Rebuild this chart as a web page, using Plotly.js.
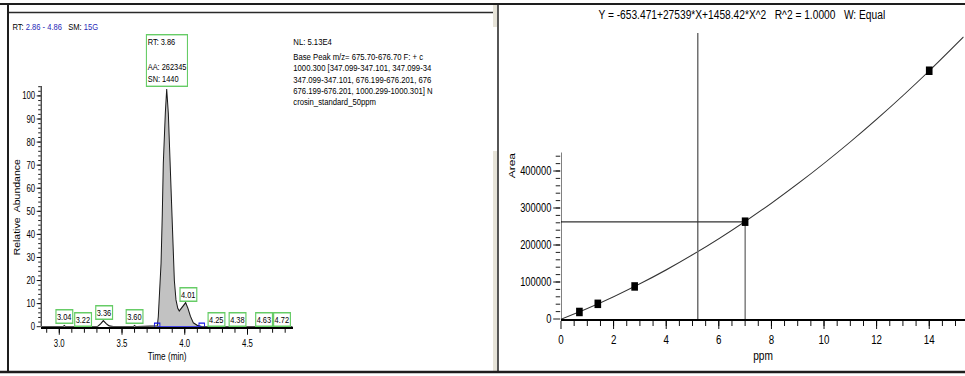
<!DOCTYPE html>
<html>
<head>
<meta charset="utf-8">
<script src="https://cdn.plot.ly/plotly-3.0.1.min.js"></script>
<style>
  html, body { margin: 0; padding: 0; background: #ffffff; overflow: hidden; width: 965px; height: 376px; }
  #wrap { width: 965px; height: 376px; overflow: hidden; position: relative; }
  #chart { width: 1237px; height: 376px; transform: scaleX(0.78011); transform-origin: 0 0; position: absolute; left: 0; top: 0; }
</style>
</head>
<body>
<div id="wrap"><div id="chart"></div></div>
<script>
// ---------------- DATA ----------------
// Chromatogram (time in min, relative abundance %)
const chromTime  = [2.86, 3.00, 3.03, 3.04, 3.05, 3.08, 3.28, 3.303, 3.33, 3.351, 3.375, 3.399, 3.43, 3.58, 3.59, 3.60, 3.61, 3.62, 3.77,
                    3.781, 3.789, 3.803, 3.811, 3.821, 3.829, 3.845, 3.856, 3.869, 3.882, 3.896, 3.909, 3.917, 3.930, 3.944, 3.956,
                    3.975, 3.992, 4.007, 4.025, 4.045, 4.068, 4.100, 4.135, 4.30, 4.50, 4.70, 4.86];
const chromAbund = [0, 0, 0, 0.5, 0, 0, 0, 0, 1.3, 2.6, 1.3, 0.3, 0, 0, 0, 0.5, 0, 0, 0,
                    0.3, 4.3, 18.8, 27.5, 49, 70.8, 92.5, 103, 92.5, 70.8, 49, 27.5, 20, 11.6, 8, 6.8,
                    8, 9.5, 10.4, 8, 4.5, 1.7, 0.6, 0, 0, 0, 0, 0];
// Integrated peak limits
const peakStart = 3.78;
const peakEnd   = 4.135;
// Peak labels
const peakLabelRT     = ['3.04', '3.22', '3.36', '3.60', '4.01', '4.25', '4.38', '4.63', '4.72'];
const peakLabelHeight = [0.5, 0, 2.6, 0.5, 10.4, 0, 0, 0, 0];
const mainPeakRT = 3.86;
const mainPeakAA = 262345;
const mainPeakSN = 1440;
const mainPeakHeight = 103;
const rtRange = [2.86, 4.86];
const smoothing = '15G';
const headerLines = ['NL: 5.13E4',
                     'Base Peak m/z= 675.70-676.70 F: + c',
                     '1000.300 [347.099-347.101, 347.099-34',
                     '347.099-347.101, 676.199-676.201, 676',
                     '676.199-676.201, 1000.299-1000.301] N',
                     'crosin_standard_50ppm'];

// Calibration standards (ppm, area)
const calPpm  = [0.7, 1.4, 2.8, 7, 14];
const calArea = [19000, 41000, 88000, 263000, 671000];
// Calibration curve
const curvePpm  = [0, 1, 2, 3, 4, 5, 6, 7, 8, 9, 10, 11, 12, 13, 14, 15.3];
const curveArea = [-650, 28300, 60300, 95100, 132800, 173500, 217100, 263600, 313000, 365300, 420600, 478700, 539800, 603800, 670700, 762100];
const sampleArea = 262345;
const sampleAmount = 7.0;
const cursorPpm = 5.2;
const equationText = 'Y = -653.471+27539*X+1458.42*X^2\u00a0\u00a0\u00a0R^2 = 1.0000\u00a0\u00a0\u00a0W: Equal';

// ---------------- HELPERS ----------------
const W = 965, H = 376;
const WV = 1237;            // drawing width before the horizontal squeeze
const S = W / WV;           // horizontal squeeze factor (matches the compressed screenshot)
const px = v => v / W;
const py = v => 1 - v / H;
const hx = v => v / S;      // horizontal pixel length in drawing units
const SANS = '"Liberation Sans", Arial, sans-serif';
const GREEN = '#66cc66';
const BLUE_TXT = '#2a2ab8';

function steps(a, b, s) { const out = []; for (let v = a; v <= b + 1e-9; v += s) out.push(+v.toFixed(4)); return out; }

// fill region built from chromatogram data
const fillT = [], fillA = [];
chromTime.forEach((t, i) => { if (t >= peakStart - 1e-6 && t <= peakEnd + 1e-6) { fillT.push(t); fillA.push(chromAbund[i]); } });

// ---------------- TRACES ----------------
const traces = [
  { x: fillT, y: fillA, xaxis: 'x', yaxis: 'y', mode: 'lines', fill: 'tozeroy',
    fillcolor: '#c2c2c2', line: { width: 0, color: '#c2c2c2' }, hoverinfo: 'skip', showlegend: false },
  { x: chromTime, y: chromAbund, xaxis: 'x', yaxis: 'y', mode: 'lines',
    line: { color: '#1a1a1a', width: 1.3 }, showlegend: false },
  { x: [peakStart, peakEnd], y: [0, 0], xaxis: 'x', yaxis: 'y', mode: 'lines+markers',
    line: { color: '#1414e6', width: 1.5 },
    marker: { symbol: 'square-open', size: 7, color: '#1414e6', line: { width: 1.2, color: '#1414e6' } }, showlegend: false },

  // calibration
  { x: curvePpm, y: curveArea, xaxis: 'x2', yaxis: 'y2', mode: 'lines',
    line: { color: '#333333', width: 1.1, shape: 'spline' }, showlegend: false },
  { x: [cursorPpm, cursorPpm], y: [0, 773000], xaxis: 'x2', yaxis: 'y2', mode: 'lines',
    line: { color: '#6e6e6e', width: 1.9 }, showlegend: false },
  { x: [0, sampleAmount, sampleAmount], y: [sampleArea, sampleArea, 0], xaxis: 'x2', yaxis: 'y2', mode: 'lines',
    line: { color: '#333333', width: 1.2 }, showlegend: false },
  { x: calPpm, y: calArea, xaxis: 'x2', yaxis: 'y2', mode: 'markers',
    marker: { symbol: 'square', size: 8.5, color: '#000000' }, showlegend: false }
];

// ---------------- ANNOTATIONS ----------------
const annotations = [];
const labelShiftX = [0, -3.5, 0, 0, 2, 0, 5, 0, 7];
const labelShiftY = [9, 7.5, 8.5, 9, 8, 7.5, 7.5, 7.5, 7.5];
peakLabelRT.forEach((lab, i) => {
  annotations.push({ x: +lab, y: peakLabelHeight[i], xref: 'x', yref: 'y', text: lab, showarrow: false,
    xanchor: 'center', yanchor: 'middle', xshift: hx(labelShiftX[i]), yshift: labelShiftY[i],
    font: { family: SANS, size: 9.5, color: '#000' }, bgcolor: '#ffffff',
    bordercolor: GREEN, borderwidth: 1.5, borderpad: 0.5 });
});
annotations.push({ x: mainPeakRT, y: mainPeakHeight, xref: 'x', yref: 'y', yshift: 2,
  text: 'RT: ' + mainPeakRT.toFixed(2) + '<br><br>AA: ' + mainPeakAA + '<br>SN: ' + mainPeakSN,
  showarrow: false, xanchor: 'center', yanchor: 'bottom', align: 'left',
  font: { family: SANS, size: 9.5, color: '#000' }, bgcolor: '#ffffff',
  bordercolor: GREEN, borderwidth: 1.4, borderpad: 1 });
annotations.push({ x: px(11), y: py(27), xref: 'paper', yref: 'paper', xanchor: 'left', yanchor: 'middle', showarrow: false,
  text: 'RT: <span style="color:' + BLUE_TXT + '">' + rtRange[0].toFixed(2) + ' - ' + rtRange[1].toFixed(2) + '</span>\u00a0\u00a0\u00a0SM: <span style="color:' + BLUE_TXT + '">' + smoothing + '</span>',
  font: { family: SANS, size: 9.7, color: '#000' } });
const headerY = [41, 56, 67.5, 79, 90.5, 102];
headerLines.forEach((t, i) => {
  annotations.push({ x: px(292), y: py(headerY[i]), xref: 'paper', yref: 'paper', xanchor: 'left', yanchor: 'middle',
    showarrow: false, text: t, font: { family: SANS, size: 9.9, color: '#000' } });
});
annotations.push({ x: px(742), y: py(15), xref: 'paper', yref: 'paper', xanchor: 'center', yanchor: 'middle',
  showarrow: false, text: equationText, font: { family: SANS, size: 13.1, color: '#000' } });
annotations.push({ x: px(512), y: py(165), xref: 'paper', yref: 'paper', xanchor: 'center', yanchor: 'middle',
  showarrow: false, text: 'Area', textangle: -90, font: { family: SANS, size: 12, color: '#000' } });
annotations.push({ x: px(16.7), y: py(207), xref: 'paper', yref: 'paper', xanchor: 'center', yanchor: 'middle',
  showarrow: false, text: 'Relative\u00a0 Abundance', textangle: -90, font: { family: SANS, size: 10.5, color: '#000' } });

// ---------------- SHAPES (window frame) ----------------
const shapes = [
  { type: 'rect', xref: 'paper', yref: 'paper', x0: px(493), x1: px(497), y0: py(4), y1: py(27), fillcolor: '#e6e3d8', line: { width: 0 } },
  { type: 'rect', xref: 'paper', yref: 'paper', x0: px(493), x1: px(497), y0: py(151), y1: py(371), fillcolor: '#e6e3d8', line: { width: 0 } },
  { type: 'line', xref: 'paper', yref: 'paper', x0: 0, x1: 1, y0: py(4), y1: py(4), line: { color: '#1e1e1e', width: 2 } },
  { type: 'line', xref: 'paper', yref: 'paper', x0: px(8), x1: px(493), y0: py(12.5), y1: py(12.5), line: { color: '#2a2a2a', width: 1.5 } },
  { type: 'line', xref: 'paper', yref: 'paper', x0: px(8), x1: px(8), y0: py(4), y1: py(372), line: { color: '#1e1e1e', width: hx(2) } },
  { type: 'line', xref: 'paper', yref: 'paper', x0: px(498), x1: px(498), y0: py(4), y1: py(372), line: { color: '#1e1e1e', width: hx(1.5) } },
  { type: 'line', xref: 'paper', yref: 'paper', x0: 0, x1: 1, y0: py(372), y1: py(372), line: { color: '#1e1e1e', width: 2.5 } },
  // right y-axis line (drawn only over the labelled extent)
  { type: 'line', xref: 'x2', yref: 'y2', x0: 0, x1: 0, y0: 0, y1: 450000, line: { color: '#000', width: hx(1) } }
];

// ---------------- LAYOUT ----------------
const layout = {
  width: WV, height: H,
  margin: { l: 0, r: 0, t: 0, b: 0 },
  paper_bgcolor: '#ffffff', plot_bgcolor: 'rgba(0,0,0,0)',
  showlegend: false,
  xaxis: {
    domain: [px(41.7), px(292.7)], range: rtRange, anchor: 'y',
    tickmode: 'array', tickvals: [3.0, 3.5, 4.0, 4.5], ticktext: ['3.0', '3.5', '4.0', '4.5'],
    ticks: 'outside', ticklen: 6, tickwidth: 1.2, tickcolor: '#000',
    minor: { tickmode: 'array', tickvals: steps(2.9, 4.8, 0.1), ticks: 'outside', ticklen: 4, tickwidth: 1.2, tickcolor: '#000', showgrid: false },
    showline: true, linecolor: '#000', linewidth: 2, showgrid: false, zeroline: false,
    tickfont: { family: SANS, size: 10, color: '#000' },
    title: { text: 'Time (min)', font: { family: SANS, size: 10.5, color: '#000' }, standoff: 5 }
  },
  yaxis: {
    domain: [py(326.7), py(86)], range: [0, 104.3], anchor: 'x',
    tickmode: 'array', tickvals: steps(0, 100, 10), ticktext: steps(0, 100, 10).map(String),
    ticks: 'outside', ticklen: hx(4), tickwidth: 1, tickcolor: '#000',
    minor: { tickmode: 'array', tickvals: steps(2, 104, 2), ticks: 'outside', ticklen: hx(2.5), tickcolor: '#000', showgrid: false },
    showline: true, linecolor: '#000', linewidth: hx(1), showgrid: false, zeroline: false,
    tickfont: { family: SANS, size: 10, color: '#000' }
  },
  xaxis2: {
    domain: [px(561), 1], range: [0, 15.36], anchor: 'y2',
    tickmode: 'array', tickvals: steps(0, 14, 2), ticktext: steps(0, 14, 2).map(String),
    ticks: 'outside', ticklen: 8, tickwidth: 1.2, tickcolor: '#000',
    minor: { tickmode: 'array', tickvals: steps(0.5, 15, 0.5), ticks: 'outside', ticklen: 5, tickwidth: 1.2, tickcolor: '#000', showgrid: false },
    showline: true, linecolor: '#000', linewidth: 2, showgrid: false, zeroline: false,
    tickfont: { family: SANS, size: 12.5, color: '#000' },
    title: { text: 'ppm', font: { family: SANS, size: 13, color: '#000' }, standoff: 5 }
  },
  yaxis2: {
    domain: [py(319), py(33)], range: [0, 773000], anchor: 'x2',
    tickmode: 'array', tickvals: steps(0, 400000, 100000), ticktext: steps(0, 400000, 100000).map(String),
    ticks: 'outside', ticklen: hx(7), tickwidth: 1, tickcolor: '#000',
    minor: { tickmode: 'array', tickvals: steps(20000, 440000, 20000), ticks: 'outside', ticklen: hx(4.5), tickcolor: '#000', showgrid: false },
    showline: false, showgrid: false, zeroline: false,
    tickfont: { family: SANS, size: 12, color: '#000' }
  },
  annotations: annotations,
  shapes: shapes
};

Plotly.newPlot('chart', traces, layout, { staticPlot: true, displayModeBar: false });
</script>
</body>
</html>
